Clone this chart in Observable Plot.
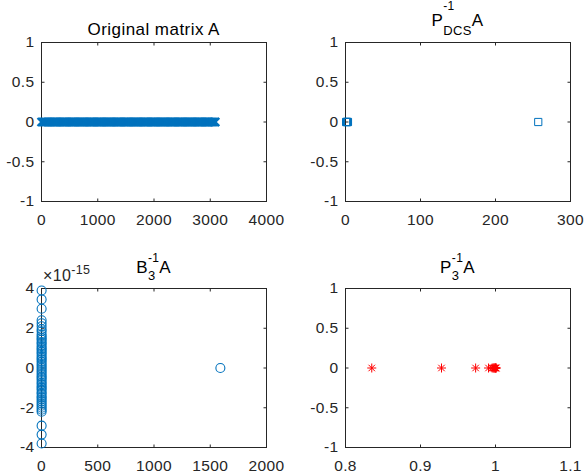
<!DOCTYPE html>
<html><head><meta charset="utf-8">
<script src="https://cdn.jsdelivr.net/npm/d3@7"></script>
<script src="https://cdn.jsdelivr.net/npm/@observablehq/plot@0.6"></script>
<style>
html,body{margin:0;padding:0;background:#fff;}
#fig{position:relative;width:587px;height:473px;overflow:hidden;background:#fff;font-family:"Liberation Sans",Arial,Helvetica,sans-serif;}
#fig > svg{position:absolute;}
</style></head><body><div id="fig"></div>
<script>
// ---------- data ----------
// Panel 1: eigenvalues of original matrix A (real parts; imaginary parts all 0)
const origRe = [
  0, 20, 41, 60, 79, 100, 121, 140, 159, 180,
  201, 220, 240, 261, 280, 299, 320, 340, 361, 380,
  400, 421, 440, 459, 480, 500, 521, 540, 560, 579,
  600, 620, 641, 660, 680, 699, 720, 741, 760, 780,
  800, 819, 840, 861, 880, 900, 920, 939, 960, 981,
  1000, 1020, 1040, 1059, 1080, 1101, 1120, 1140, 1160, 1179,
  1200, 1221, 1240, 1260, 1280, 1299, 1320, 1341, 1360, 1380,
  1400, 1419, 1440, 1461, 1480, 1500, 1520, 1539, 1560, 1581,
  1600, 1620, 1640, 1659, 1680, 1701, 1720, 1740, 1760, 1779,
  1800, 1821, 1840, 1860, 1880, 1899, 1920, 1941, 1960, 1980,
  2000, 2019, 2040, 2061, 2080, 2100, 2120, 2139, 2160, 2181,
  2200, 2220, 2240, 2259, 2280, 2301, 2320, 2340, 2360, 2379,
  2400, 2421, 2440, 2460, 2480, 2499, 2520, 2541, 2560, 2580,
  2600, 2619, 2640, 2661, 2680, 2700, 2720, 2739, 2760, 2781,
  2800, 2820, 2840, 2859, 2880, 2901, 2920, 2940, 2960, 2979,
  3000, 3021, 3040, 3060, 3080, 3090
];
// Panel 2: eigenvalues of P_DCS^-1 A
const dcsRe = [0.8, 1.3, 1.8, 2.3, 2.8, 3.3, 257];
const dcsIm = [0, 0, 0, 0, 0, 0, 0];
// Panel 3: eigenvalues of B_3^-1 A (imaginary parts in units of 1e-15)
const b3Im = [3.9, 3.45, 2.98, 2.4, 2.25, 2.1, 1.95, 1.85,
  1.7, 1.6, 1.5, 1.42, 1.3, 1.22, 1.1, 1.0, 0.92, 0.81, 0.72, 0.6, 0.5, 0.42, 0.31, 0.2, 0.1, 0,
  -0.1, -0.2, -0.31, -0.42, -0.5, -0.6, -0.72, -0.81, -0.92, -1.0, -1.1, -1.22, -1.3, -1.42, -1.5,
  -1.6, -1.7, -1.8, -1.9, -2.0, -2.1, -2.2, -2.9, -3.35, -3.8, 0];
const b3Re = [1, 1, 1, 1, 1, 1, 1, 1,
  1, 1, 1, 1, 1, 1, 1, 1, 1, 1, 1, 1, 1, 1, 1, 1, 1, 1,
  1, 1, 1, 1, 1, 1, 1, 1, 1, 1, 1, 1, 1, 1, 1,
  1, 1, 1, 1, 1, 1, 1, 1, 1, 1, 1590];
// Panel 4: eigenvalues of P_3^-1 A
const p3Re = [0.835, 0.928, 0.9735, 0.9907, 0.9955, 0.997, 0.998, 0.999, 0.9995, 1.0, 1.0005, 1.001];
const p3Im = [0, 0, 0, 0, 0, 0, 0, 0, 0, 0, 0, 0];

// ticks
const xTicks1 = [0, 1000, 2000, 3000, 4000];
const xTicks2 = [0, 100, 200, 300];
const xTicks3 = [0, 500, 1000, 1500, 2000];
const xTicks4 = [0.8, 0.9, 1, 1.1];
const yTicksUnit = [-1, -0.5, 0, 0.5, 1];
const yTicks3 = [-4, -2, 0, 2, 4];

// ---------- styling ----------
const AX = "#262626";
const BLUE = "#0072BD";
const RED = "#FF0000";
const FONT = '"Liberation Sans", Arial, Helvetica, sans-serif';
const fmt = d => String(d);

const half = size => Math.sqrt(size / Math.PI);
const symTimes = {draw(c, s){const h = half(s); c.moveTo(-h,-h); c.lineTo(h,h); c.moveTo(-h,h); c.lineTo(h,-h);}};
const symSquare = {draw(c, s){const h = half(s); c.moveTo(-h,-h); c.lineTo(h,-h); c.lineTo(h,h); c.lineTo(-h,h); c.closePath();}};
const symStar = {draw(c, s){const h = half(s), k = h*0.72; c.moveTo(-h,0); c.lineTo(h,0); c.moveTo(0,-h); c.lineTo(0,h); c.moveTo(-k,-k); c.lineTo(k,k); c.moveTo(-k,k); c.lineTo(k,-k);}};
const tickSym = (dx, dy) => ({draw(c){c.moveTo(0,0); c.lineTo(dx,dy);}});
const TL = 3;

const fig = document.getElementById("fig");

function panel({left, top, width, height, mL, mR, mT, mB, xTicks, yTicks, marks}) {
  const xd = d3.extent(xTicks), yd = d3.extent(yTicks);
  const tickMarks = [
    Plot.dot(xTicks, {x: d => d, y: () => yd[0], symbol: tickSym(0, -TL), r: 1, fill: "none", stroke: AX, strokeWidth: 1}),
    Plot.dot(xTicks, {x: d => d, y: () => yd[1], symbol: tickSym(0, TL), r: 1, fill: "none", stroke: AX, strokeWidth: 1}),
    Plot.dot(yTicks, {y: d => d, x: () => xd[0], symbol: tickSym(TL, 0), r: 1, fill: "none", stroke: AX, strokeWidth: 1}),
    Plot.dot(yTicks, {y: d => d, x: () => xd[1], symbol: tickSym(-TL, 0), r: 1, fill: "none", stroke: AX, strokeWidth: 1})
  ];
  const p = Plot.plot({
    width, height,
    marginLeft: mL, marginRight: mR, marginTop: mT, marginBottom: mB,
    x: {domain: xd},
    y: {domain: yd},
    style: {fontFamily: FONT, fontSize: "15.5px", color: AX, background: "transparent", letterSpacing: "0.4px"},
    marks: [
      Plot.frame({stroke: AX, strokeWidth: 1}),
      ...tickMarks,
      Plot.axisX(xTicks, {anchor: "bottom", tickSize: 0, tickPadding: 12, tickFormat: fmt, label: null}),
      Plot.axisY(yTicks, {anchor: "left", tickSize: 0, tickPadding: 7, tickFormat: fmt, label: null}),
      ...marks
    ]
  });
  p.style.position = "absolute";
  p.style.left = left + "px";
  p.style.top = top + "px";
  fig.appendChild(p);
}

// Panel 1
panel({left: 0, top: 0, width: 290, height: 236, mL: 41, mR: 24, mT: 42, mB: 35,
  xTicks: xTicks1, yTicks: yTicksUnit,
  marks: [Plot.dot(origRe, {x: d => d, y: () => 0, symbol: symTimes, r: 4, fill: "none", stroke: BLUE, strokeWidth: 2.2})]});
// Panel 2
panel({left: 290, top: 0, width: 297, height: 236, mL: 55, mR: 17, mT: 42, mB: 35,
  xTicks: xTicks2, yTicks: yTicksUnit,
  marks: [Plot.dot(d3.range(dcsRe.length), {x: i => dcsRe[i], y: i => dcsIm[i], symbol: symSquare, r: 3.6, fill: "none", stroke: BLUE, strokeWidth: 1})]});
// Panel 3
panel({left: 0, top: 236, width: 290, height: 237, mL: 41, mR: 24, mT: 52, mB: 26,
  xTicks: xTicks3, yTicks: yTicks3,
  marks: [Plot.dot(d3.range(b3Re.length), {x: i => b3Re[i], y: i => b3Im[i], symbol: "circle", r: 4.5, fill: "none", stroke: BLUE, strokeWidth: 1.1})]});
// Panel 4
panel({left: 290, top: 236, width: 297, height: 237, mL: 55, mR: 17, mT: 52, mB: 26,
  xTicks: xTicks4, yTicks: yTicksUnit,
  marks: [Plot.dot(d3.range(p3Re.length), {x: i => p3Re[i], y: i => p3Im[i], symbol: symStar, r: 4.5, fill: "none", stroke: RED, strokeWidth: 1})]});

// ---------- titles & exponent label ----------
const ov = d3.select(fig).append("svg")
  .attr("width", 587).attr("height", 473)
  .style("left", "0px").style("top", "0px")
  .style("font-family", FONT).style("fill", "#000");

function addText(g, t, size, y, ls) {
  const el = g.append("text").attr("x", 0).attr("y", y).attr("font-size", size)
    .style("letter-spacing", ls + "px").text(t);
  return el;
}
function title(cx, runs) {
  const g = ov.append("g");
  let x = 0;
  for (const r of runs) {
    if (r.t !== undefined) {
      const el = addText(g, r.t, r.s, r.y, 0.45).attr("x", x);
      x += el.node().getComputedTextLength();
    } else {
      const a = addText(g, r.sup.t, r.sup.s, r.sup.y, 0.3).attr("x", x);
      const b = addText(g, r.sub.t, r.sub.s, r.sub.y, 0.3).attr("x", x);
      x += Math.max(a.node().getComputedTextLength(), b.node().getComputedTextLength());
    }
  }
  g.attr("transform", `translate(${cx - x / 2},0)`);
}
title(153.7, [{t: "Original matrix A", s: 17, y: 35}]);
title(457.5, [{t: "P", s: 17, y: 26}, {sup: {t: "-1", s: 12, y: 10}, sub: {t: "DCS", s: 13, y: 35}}, {t: "A", s: 17, y: 26}]);
title(153.7, [{t: "B", s: 17, y: 273}, {sup: {t: "-1", s: 12, y: 261.5}, sub: {t: "3", s: 13, y: 280}}, {t: "A", s: 17, y: 273}]);
title(457.5, [{t: "P", s: 17, y: 272.5}, {sup: {t: "-1", s: 12, y: 261.5}, sub: {t: "3", s: 13, y: 280}}, {t: "A", s: 17, y: 272.5}]);

// exponent label for panel 3
const eg = ov.append("g").style("fill", AX);
const e1 = addText(eg, "\u00d710", 16, 281, 0.4).attr("x", 43);
const e1w = e1.node().getComputedTextLength();
addText(eg, "-15", 12.5, 273.5, 0.3).attr("x", 43 + e1w);
</script>
</body></html>
